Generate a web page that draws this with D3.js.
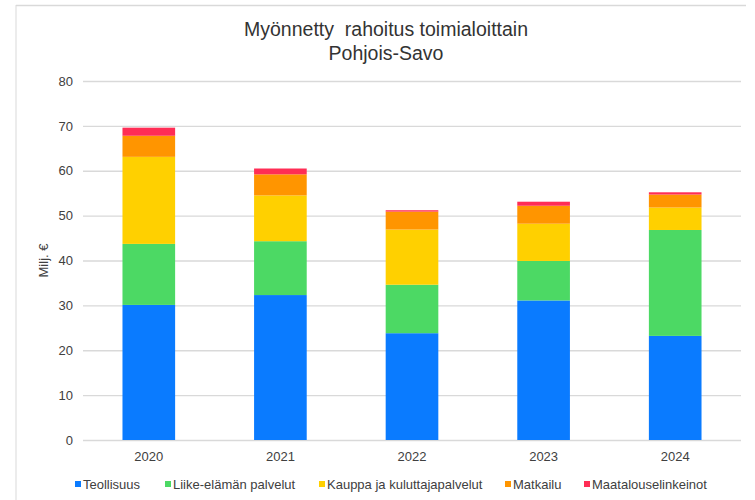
<!DOCTYPE html>
<html>
<head>
<meta charset="utf-8">
<script src="https://cdn.jsdelivr.net/npm/d3@7"></script>
<style>
  body { margin: 0; background: #fff; }
  text { font-family: "Liberation Sans", Arial, sans-serif; }
</style>
</head>
<body>
<div id="chart"></div>
<script>
// data (milj. €)
var years = ["2020", "2021", "2022", "2023", "2024"];
var seriesNames = ["Teollisuus", "Liike-elämän palvelut", "Kauppa ja kuluttajapalvelut", "Matkailu", "Maatalouselinkeinot"];
var teollisuus = [30.1, 32.3, 23.8, 31.1, 23.2];
var liike = [13.6, 12.0, 10.8, 8.8, 23.6];
var kauppa = [19.4, 10.2, 12.3, 8.3, 5.0];
var matkailu = [4.7, 4.7, 4.0, 4.0, 2.9];
var maatalous = [1.8, 1.3, 0.3, 0.9, 0.5];
var yTicks = [0, 10, 20, 30, 40, 50, 60, 70, 80];

var colors = ["#0a7bff", "#4cd964", "#ffd000", "#ff9500", "#ff2d55"];

var W = 755, H = 500;
var margin = { top: 81, right: 14, bottom: 60, left: 83 },
    width = W - margin.left - margin.right,
    height = H - margin.top - margin.bottom;

var svg = d3.select("#chart")
    .append("svg")
    .attr("width", W)
    .attr("height", H);

// frame lines (left and top)
svg.append("line")
    .attr("x1", 16).attr("x2", 16).attr("y1", 5).attr("y2", H)
    .attr("stroke", "#d9d9d9").attr("stroke-width", 1);
svg.append("line")
    .attr("x1", 16).attr("x2", 746).attr("y1", 5.5).attr("y2", 5.5)
    .attr("stroke", "#d9d9d9").attr("stroke-width", 1.5);

// build table for stack
var table = years.map(function(y, i) {
    return {
        year: y,
        "Teollisuus": teollisuus[i],
        "Liike-elämän palvelut": liike[i],
        "Kauppa ja kuluttajapalvelut": kauppa[i],
        "Matkailu": matkailu[i],
        "Maatalouselinkeinot": maatalous[i]
    };
});
var stacked = d3.stack().keys(seriesNames)(table);

var plot = svg.append("g")
    .attr("transform", "translate(" + margin.left + "," + margin.top + ")");

var x = d3.scaleBand()
    .domain(years)
    .range([0, width])
    .paddingInner(0.6)
    .paddingOuter(0.3);

var y = d3.scaleLinear()
    .domain([0, 80])
    .range([height, 0]);

// gridlines + y labels
var yAxis = plot.append("g")
    .call(d3.axisLeft(y).tickValues(yTicks).tickSize(-width).tickPadding(10));
yAxis.select(".domain").remove();
yAxis.selectAll(".tick line").attr("stroke", "#d9d9d9").attr("stroke-width", 1.3);
yAxis.selectAll(".tick text")
    .attr("fill", "#404040")
    .style("font-size", "13px")
    .style("font-family", "'Liberation Sans', Arial, sans-serif");

// bars
plot.selectAll("g.layer")
    .data(stacked)
    .enter()
    .append("g")
    .attr("class", "layer")
    .attr("fill", function(d, i) { return colors[i]; })
    .selectAll("rect")
    .data(function(d) { return d; })
    .enter()
    .append("rect")
    .attr("x", function(d) { return x(d.data.year); })
    .attr("y", function(d) { return y(d[1]); })
    .attr("width", x.bandwidth())
    .attr("height", function(d) { return y(d[0]) - y(d[1]); });

// x labels
var xAxis = plot.append("g")
    .attr("transform", "translate(0," + height + ")")
    .call(d3.axisBottom(x).tickSize(0).tickPadding(12));
xAxis.select(".domain").remove();
xAxis.selectAll(".tick text")
    .attr("fill", "#404040")
    .style("font-size", "13px")
    .style("font-family", "'Liberation Sans', Arial, sans-serif");

// y axis title
svg.append("text")
    .attr("transform", "translate(48," + (margin.top + height / 2) + ")rotate(-90)")
    .attr("text-anchor", "middle")
    .attr("fill", "#404040")
    .style("font-size", "13px")
    .text("Milj. €");

// title
var title = svg.append("text")
    .attr("text-anchor", "middle")
    .attr("fill", "#333")
    .style("font-size", "19.5px");
title.append("tspan").attr("x", 386).attr("y", 36).attr("xml:space", "preserve").text("Myönnetty  rahoitus toimialoittain");
title.append("tspan").attr("x", 386).attr("y", 60).text("Pohjois-Savo");

// legend
var legendX = [75, 165, 319, 505, 584];
var legend = svg.append("g");
seriesNames.forEach(function(name, i) {
    legend.append("rect")
        .attr("x", legendX[i]).attr("y", 481)
        .attr("width", 6).attr("height", 6)
        .attr("fill", colors[i]);
    legend.append("text")
        .attr("x", legendX[i] + 8).attr("y", 489)
        .attr("fill", "#404040")
        .style("font-size", "13px")
        .text(name);
});
</script>
</body>
</html>
